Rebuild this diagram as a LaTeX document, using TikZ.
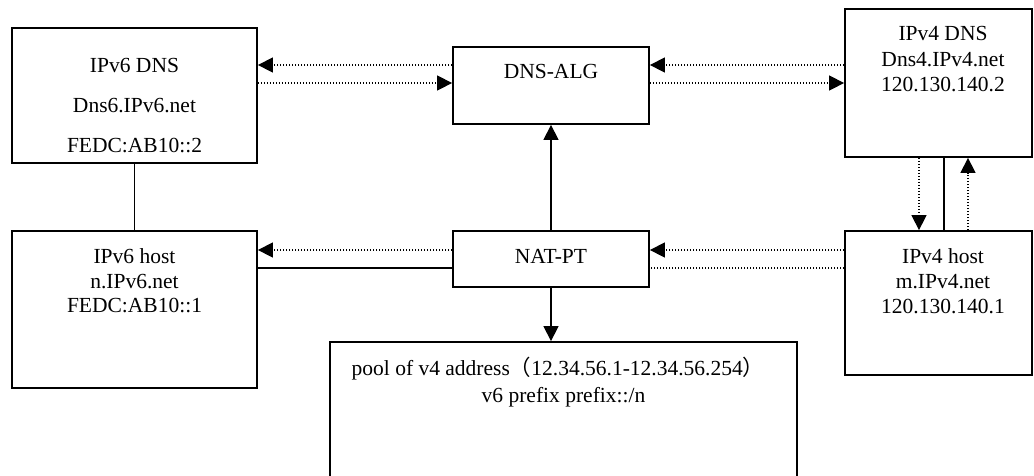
\documentclass[tikz,border=0pt]{standalone}
\usepackage{fontspec}
\setmainfont{Liberation Serif}
\newfontfamily\cjk{Noto Sans CJK SC}
\usetikzlibrary{arrows.meta}
\begin{document}
\begin{tikzpicture}[x=1pt,y=-1pt,
  box/.style={draw, line width=1.8pt, rectangle, inner sep=0pt},
  txt/.style={inner sep=0pt, anchor=base, font=\fontsize{21.5}{25}\selectfont},
  dots/.style={line width=1.4pt, dash pattern=on 1.4pt off 1.6pt},
  conn/.style={line width=1.3pt},
  tip/.style={-{Triangle[length=15pt,width=15pt]}}
]
\useasboundingbox (0,0) rectangle (1034,475);

% boxes
\node[box, minimum width=245pt, minimum height=135pt] (dns6) at (134.5,95.5) {};
\node[box, minimum width=245pt, minimum height=157pt] (host6) at (134.5,309.5) {};
\node[box, minimum width=196pt, minimum height=77pt] (alg) at (551,85.5) {};
\node[box, minimum width=196pt, minimum height=56pt] (nat) at (551,259) {};
\node[box, minimum width=187pt, minimum height=148pt] (dns4) at (938.5,83) {};
\node[box, minimum width=187pt, minimum height=144pt] (host4) at (938.5,303) {};
\node[box, minimum width=467pt, minimum height=160pt] (pool) at (563.5,422) {};

% texts
\node[txt] (t6a) at (134.5,72) {IPv6 DNS};
\node[txt] (t6b) at (134.5,112) {Dns6.IPv6.net};
\node[txt] (t6c) at (134.5,152) {FEDC:AB10::2};
\node[txt] (h6a) at (134.5,263) {IPv6 host};
\node[txt] (h6b) at (134.5,288) {n.IPv6.net};
\node[txt] (h6c) at (134.5,312) {FEDC:AB10::1};
\node[txt] (algt) at (551,78) {DNS-ALG};
\node[txt] (natt) at (551,263) {NAT-PT};
\node[txt] (d4a) at (943,40) {IPv4 DNS};
\node[txt] (d4b) at (943,66) {Dns4.IPv4.net};
\node[txt] (d4c) at (943,91) {120.130.140.2};
\node[txt] (h4a) at (943,263) {IPv4 host};
\node[txt] (h4b) at (943,288) {m.IPv4.net};
\node[txt] (h4c) at (943,313) {120.130.140.1};
\node[txt] (poola) at (558,375) {pool of v4 address{\cjk （}12.34.56.1-12.34.56.254{\cjk ）}};
\node[txt] (poolb) at (563.5,402) {v6 prefix prefix::/n};

% connectors
\draw[dots,tip] (alg.west |- 0,65) -- (dns6.east |- 0,65);
\draw[dots,tip] (dns6.east |- 0,83) -- (alg.west |- 0,83);
\draw[dots,tip] (dns4.west |- 0,65) -- (alg.east |- 0,65);
\draw[dots,tip] (alg.east |- 0,83) -- (dns4.west |- 0,83);
\draw[conn] (dns6.south) -- (host6.north);
\draw[conn,tip] (nat.north) -- (alg.south);
\draw[conn,tip] (nat.south) -- (nat.south |- pool.north);
\draw[dots,tip] (nat.west |- 0,250) -- (host6.east |- 0,250);
\draw[conn] (host6.east |- 0,268) -- (nat.west |- 0,268);
\draw[dots,tip] (host4.west |- 0,250) -- (nat.east |- 0,250);
\draw[dots] (host4.west |- 0,268) -- (nat.east |- 0,268);
\draw[dots,tip] (dns4.south -| 919,0) -- (host4.north -| 919,0);
\draw[conn] (dns4.south -| 944,0) -- (host4.north -| 944,0);
\draw[dots,tip] (host4.north -| 968,0) -- (dns4.south -| 968,0);
\end{tikzpicture}
\end{document}
